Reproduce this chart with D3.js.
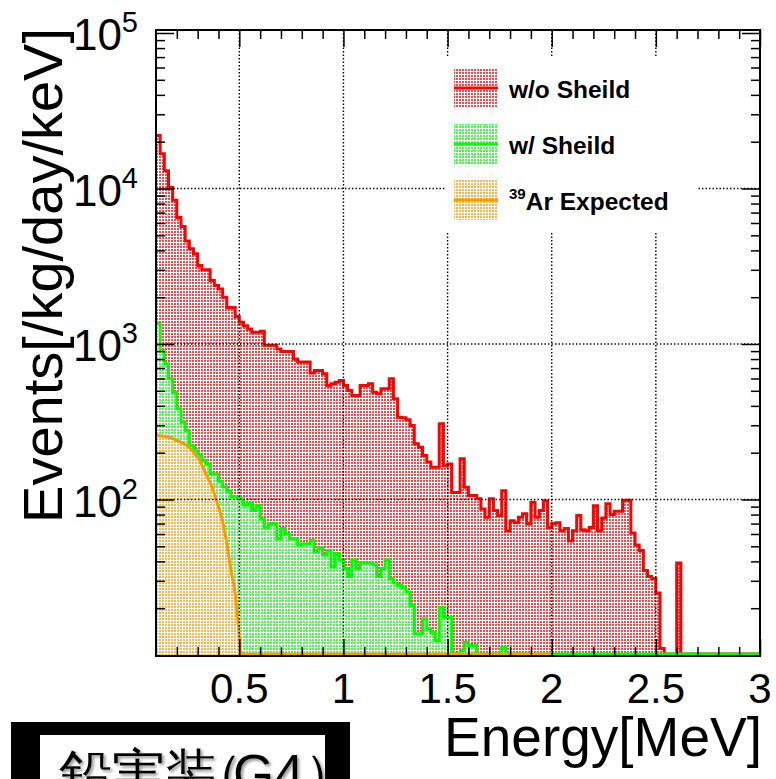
<!DOCTYPE html>
<html><head><meta charset="utf-8">
<script src="https://cdn.jsdelivr.net/npm/d3@7/dist/d3.min.js"></script>
<style>
html,body{margin:0;padding:0;background:#fff;}
svg{display:block;}
text{font-family:"Liberation Sans",Arial,Helvetica,sans-serif;}
</style></head><body>
<svg id="chart" width="776" height="779"></svg>
<script>
// ---------------- data ----------------
const binStart = 0.10;   // MeV, low edge of first visible bin
const binWidth = 0.02;   // MeV
const redValues = [
  21900,16700,13000,10200,8400,6500,5700,4600,4100,3800,
  3200,3000,3000,2560,2380,2260,2000,1720,1720,1500,
  1380,1310,1250,1190,1190,1210,980,980,980,930,
  895,895,895,800,765,765,765,650,676,676,
  643,541,555,568,582,541,502,467,467,541,
  541,555,490,478,515,515,597,445,338,335,
  326,299,228,217,192,174,161,161,307,165,
  169,111,111,183,120,106,106,101,87,77,
  101,85,79,114,63,73,71,77,81,70,
  96,77,85,98,66,70,71,63,65,54,
  63,79,64,63,66,91,63,76,94,80,
  84,84,99,99,61,51,47,35,32,31,
  25,11,0,0,0,39,0,0,0,0,
  0,0,0,0,0,0,0,0,0,0,
  0,0,0,0,0
];
const greenValues = [
  1350,908,746,597,490,383,314,278,222,206,
  192,178,170,146,146,131,121,113,104,104,
  101,92,95,85,92,75,66,70,70,56,
  65,60,56,56,51,52,52,54.5,46,49,
  44,47,37,45,41,36,32,41,36,39,
  39,39,38,32,36,41,31,29,28,27,
  25.4,20.8,13.7,13.7,17.1,14.7,14,12.4,20.3,17.5,
  17.5,0,0,10.7,12.1,11.5,11.5,0,0,0,
  0,0,0,11.2,0,0,0,0,0,0,
  0,0,0,0,0,0,0,0,0,0,
  0,0,0,0,0,0,0,0,0,0,
  0,0,0,0,0,0,0,0,0,0,
  0,0,0,0,0,0,0,0,0,0,
  0,0,0,0,0,0,0,0,0,0,
  0,0,0,0,0
];
const arEnergy = [0.10,0.15,0.20,0.25,0.28,0.31,0.34,0.37,0.39,0.415,0.44,0.46,0.48,0.49,0.50,0.505];
const arValues = [258,254,240,222,202,178,146,120,99,77,52,35,25,18.5,13,10.5];
const arEndEnergy = 2.0;   // 39Ar histogram range ends here
const xTickValues = [0.5,1,1.5,2,2.5,3];
const xTickLabels = ["0.5","1","1.5","2","2.5","3"];
const yTickValues = [1e2,1e3,1e4,1e5];
const yTickExponents = ["2","3","4","5"];
const legendLabels = ["w/o Sheild","w/ Sheild","Ar Expected"];
const legendSup = ["","","39"];
const seriesColors = ["#ff0000","#00ff00","#ff9900"];

// ---------------- layout ----------------
const L = 156, R = 760, T = 30, B = 656;
const svg = d3.select("#chart");
const x = d3.scaleLinear().domain([0.1, 3]).range([L, R]);
const y = d3.scaleLog().domain([10, 1e5]).range([655, 33]);
const yZero = 654;
const yv = v => v > 0 ? y(Math.max(v, 10)) : yZero;

// patterns
const defs = svg.append("defs");
seriesColors.forEach((c, i) => {
  const p = defs.append("pattern").attr("id", "pat" + i)
    .attr("width", 3).attr("height", 3).attr("patternUnits", "userSpaceOnUse");
  p.append("rect").attr("width", 3).attr("height", 3).attr("fill", "#fff");
  p.append("rect").attr("width", 2).attr("height", 2).attr("fill", c).attr("opacity", 0.72);
});
defs.append("clipPath").attr("id", "clip").append("rect")
  .attr("x", L).attr("y", T).attr("width", R - L).attr("height", 655 - T);
const sh = defs.append("filter").attr("id", "shadow").attr("x", "-10%").attr("y", "-10%").attr("width", "130%").attr("height", "140%");
sh.append("feDropShadow").attr("dx", 2).attr("dy", 2).attr("stdDeviation", 1.5).attr("flood-color", "#777").attr("flood-opacity", 0.8);

const plot = svg.append("g").attr("clip-path", "url(#clip)");

function binsOf(vals) {
  const b = vals.map((v, i) => ({ e: binStart + i * binWidth, v }));
  b.push({ e: binStart + vals.length * binWidth, v: vals[vals.length - 1] });
  return b;
}
const stepLine = d3.line().x(d => x(d.e)).y(d => yv(d.v)).curve(d3.curveStepAfter);
const stepArea = d3.area().x(d => x(d.e)).y0(B).y1(d => yv(d.v)).curve(d3.curveStepAfter);

[redValues, greenValues].forEach((vals, i) => {
  const b = binsOf(vals);
  plot.append("path").attr("d", stepArea(b)).attr("fill", `url(#pat${i})`);
  plot.append("path").attr("d", stepLine(b)).attr("fill", "none")
    .attr("stroke", seriesColors[i]).attr("stroke-width", 3).attr("stroke-linejoin", "miter");
});

// 39Ar expected (smooth spectrum)
const arPts = arEnergy.map((e, i) => ({ e, v: arValues[i] }));
const arLine = d3.line().x(d => x(d.e)).y(d => yv(d.v)).curve(d3.curveMonotoneX);
const arArea = d3.area().x(d => x(d.e)).y0(B).y1(d => yv(d.v)).curve(d3.curveMonotoneX);
const lastAr = arPts[arPts.length - 1];
plot.append("path").attr("d", arArea(arPts) ).attr("fill", "url(#pat2)");
plot.append("path").attr("d", arLine(arPts) + `L${x(lastAr.e)+2},${yZero}L${x(arEndEnergy)},${yZero}`)
  .attr("fill", "none").attr("stroke", seriesColors[2]).attr("stroke-width", 3);

// grid
const grid = svg.append("g").attr("stroke", "#000").attr("stroke-width", 1.4).attr("stroke-dasharray", "1.4,2.1");
xTickValues.filter(v => v < 3).forEach(v => {
  grid.append("line").attr("x1", x(v)).attr("x2", x(v)).attr("y1", T).attr("y2", B);
});
yTickValues.filter(v => v < 1e5).forEach(v => {
  grid.append("line").attr("x1", L).attr("x2", R).attr("y1", y(v)).attr("y2", y(v));
});

// ticks
const xMinor = d3.range(2, 30).map(k => k / 10).filter(v => Math.abs(v * 2 - Math.round(v * 2)) > 1e-6);
const yMinor = [];
[10, 100, 1000, 10000].forEach(d => { for (let k = 2; k <= 9; k++) yMinor.push(k * d); });

function addAxis(gen, tx, ty) {
  const g = svg.append("g").attr("transform", `translate(${tx},${ty})`).call(gen);
  g.select(".domain").remove();
  g.selectAll(".tick line").attr("stroke", "#000").attr("stroke-width", 1.5);
  return g;
}
addAxis(d3.axisBottom(x).tickValues(xTickValues).tickSize(-17).tickFormat(""), 0, B);
addAxis(d3.axisBottom(x).tickValues(xMinor).tickSize(-9).tickFormat(""), 0, B);
addAxis(d3.axisTop(x).tickValues(xTickValues).tickSize(-17).tickFormat(""), 0, T);
addAxis(d3.axisTop(x).tickValues(xMinor).tickSize(-9).tickFormat(""), 0, T);
addAxis(d3.axisLeft(y).tickValues(yTickValues).tickSize(-18).tickFormat(""), L, 0);
addAxis(d3.axisLeft(y).tickValues(yMinor).tickSize(-9).tickFormat(""), L, 0);
addAxis(d3.axisRight(y).tickValues(yTickValues).tickSize(-18).tickFormat(""), R, 0);
addAxis(d3.axisRight(y).tickValues(yMinor).tickSize(-9).tickFormat(""), R, 0);

// frame
svg.append("rect").attr("x", L).attr("y", T).attr("width", R - L).attr("height", B - T)
  .attr("fill", "none").attr("stroke", "#000").attr("stroke-width", 2);

// tick labels
xTickValues.forEach((v, i) => {
  svg.append("text").attr("x", x(v)).attr("y", 703).attr("text-anchor", "middle")
    .attr("font-size", 42).text(xTickLabels[i]);
});
yTickValues.forEach((v, i) => {
  const t = svg.append("text").attr("x", 138).attr("y", y(v) + 17).attr("text-anchor", "end").attr("font-size", 44);
  t.append("tspan").text("10");
  t.append("tspan").attr("dy", -18).attr("font-size", 29).text(yTickExponents[i]);
});

// axis titles
svg.append("text").attr("x", 762).attr("y", 756).attr("text-anchor", "end")
  .attr("font-size", 55).text("Energy[MeV]");
svg.append("text").attr("transform", "translate(62,28) rotate(-90)").attr("text-anchor", "end")
  .attr("font-size", 56).text("Events[/kg/day/keV]");

// legend
const leg = svg.append("g");
leg.append("rect").attr("x", 445).attr("y", 57).attr("width", 253).attr("height", 175).attr("fill", "#fff");
const rowY = [88, 144, 200];
legendLabels.forEach((lab, i) => {
  const cy = rowY[i];
  leg.append("rect").attr("x", 454).attr("y", cy - 20).attr("width", 44).attr("height", 40).attr("fill", `url(#pat${i})`);
  leg.append("line").attr("x1", 454).attr("x2", 498).attr("y1", cy).attr("y2", cy)
    .attr("stroke", seriesColors[i]).attr("stroke-width", 3);
  const t = leg.append("text").attr("x", 509).attr("y", cy + 10).attr("font-size", 24.5).attr("font-weight", "bold");
  if (legendSup[i]) {
    t.append("tspan").attr("font-size", 15).attr("dy", -11).text(legendSup[i]);
    t.append("tspan").attr("dy", 11).text(lab);
  } else {
    t.text(lab);
  }
});

// label box bottom-left
svg.append("rect").attr("x", 11).attr("y", 722).attr("width", 339).attr("height", 60).attr("fill", "#000");
svg.append("rect").attr("x", 40).attr("y", 735).attr("width", 285).attr("height", 50).attr("fill", "#fff");
svg.append("text").attr("y", 792).attr("x", "59 112 165 190 233")
  .attr("font-family", "'Noto Sans CJK JP','Noto Sans CJK SC',sans-serif")
  .attr("font-size", 53).attr("filter", "url(#shadow)").text("鉛実装（G4）");
</script>
</body></html>
